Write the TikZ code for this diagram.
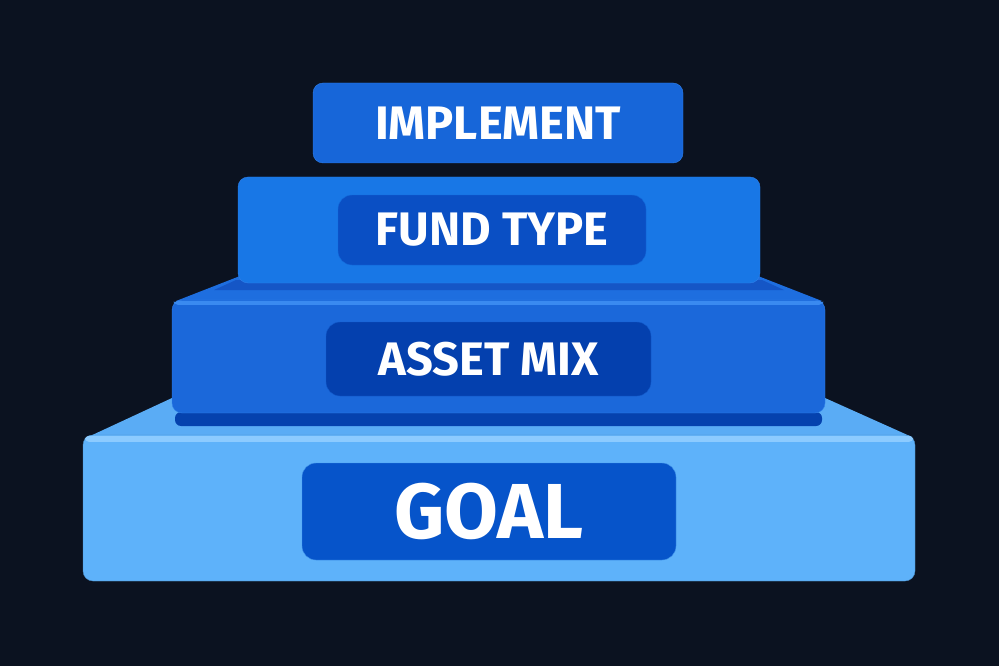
\documentclass[tikz,border=0pt]{standalone}
\usepackage{fontspec}
\setmainfont{Fira Sans}
\usetikzlibrary{positioning}

\definecolor{bgnavy}{HTML}{0B1220}
\definecolor{implfill}{HTML}{1766D9}
\definecolor{implrim}{HTML}{2F80EA}
\definecolor{fundfill}{HTML}{1877E6}
\definecolor{fundpill}{HTML}{0A4FC4}
\definecolor{assetfill}{HTML}{1B68DA}
\definecolor{assettop}{HTML}{1E6EDF}
\definecolor{assetshade}{HTML}{1556C6}
\definecolor{assetstrip}{HTML}{3A8AF0}
\definecolor{assetpill}{HTML}{0440AE}
\definecolor{assetlip}{HTML}{0542AE}
\definecolor{goalfill}{HTML}{5EB2FA}
\definecolor{goaltop}{HTML}{5AACF5}
\definecolor{goalstrip}{HTML}{8CCBFF}
\definecolor{goalpill}{HTML}{0654CA}

\tikzset{
	tier/.style={rounded corners=10pt, inner sep=0pt},
	pill/.style={rounded corners=14pt, inner sep=0pt, text=white,
		font=\bfseries\fontsize{47}{47}\selectfont},
}

\begin{document}
\begin{tikzpicture}[x=1pt, y=-1pt]
	\fill[bgnavy] (0,0) rectangle (999,666);
	\useasboundingbox (0,0) rectangle (999,666);

	% goal tier
	\fill[goaltop] (172,398) -- (825,398) -- (912,437) -- (88,437) -- cycle;
	\node[tier, fill=goalfill, draw=goalfill!80!black, minimum width=832pt, minimum height=146pt] (goalbox) at (499,508) {};
	\fill[goalstrip, rounded corners=4pt] ([xshift=2pt,yshift=-1pt]goalbox.north west) rectangle ([xshift=-2pt,yshift=-7pt]goalbox.north east);
	\node[pill, fill=goalpill, draw=goalfill!70!goalpill, minimum width=374pt, minimum height=97pt,
		font=\bfseries\fontsize{78}{78}\selectfont] (goal) at (489,511.5) {GOAL};

	% asset mix tier
	\fill[assettop] (240,276) -- (758,276) -- (822,301) -- (176,301) -- cycle;
	\fill[assetshade] (236,280) -- (762,280) -- (784,290) -- (214,290) -- cycle;
	\node[tier, fill=assetlip, rounded corners=6pt, minimum width=647pt, minimum height=14pt] (assetlip) at (498.5,419) {};
	\node[tier, fill=assetfill, draw=implrim, minimum width=653pt, minimum height=113pt] (assetbox) at (498.5,356.5) {};
	\fill[assetstrip, rounded corners=4pt] ([xshift=2pt,yshift=-1pt]assetbox.north west) rectangle ([xshift=-2pt,yshift=-5pt]assetbox.north east);
	\node[pill, fill=assetpill, draw=assetfill!70!assetpill, minimum width=325pt, minimum height=74pt] (asset) at (488.5,359) {ASSET MIX};

	% fund type tier
	\node[tier, fill=fundfill, draw=implrim, minimum width=522pt, minimum height=106pt] (fundbox) at (499,230) {};
	\node[pill, fill=fundpill, draw=fundfill!70!fundpill, minimum width=308pt, minimum height=70pt] (fund) at (492,230) {FUND TYPE};

	% implement tier
	\node[pill, tier, fill=implfill, draw=implrim, text=white, minimum width=370pt, minimum height=80pt] (implement) at (498,123) {IMPLEMENT};
\end{tikzpicture}
\end{document}
